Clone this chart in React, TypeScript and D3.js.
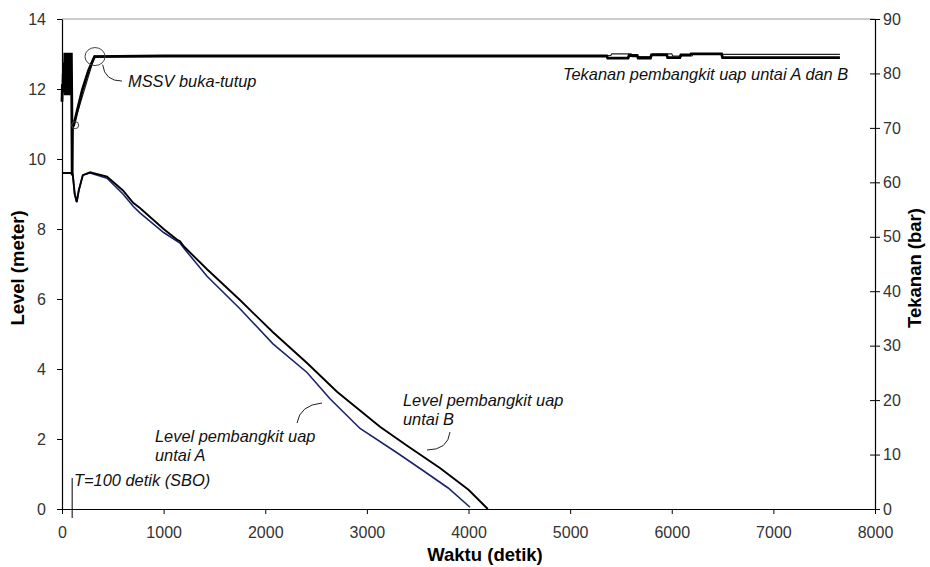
import * as d3 from "d3";
import { useRef, useEffect } from "react";

// waktu (detik) dan level (meter) untai A / B
const levelTimeA = [0, 100, 108, 125, 145, 165, 205, 276, 443, 600, 700, 767, 1000, 1161, 1200, 1427, 1751, 2076, 2411, 2637, 2933, 3300, 3552, 3800, 4015];
const levelA = [9.6, 9.6, 9.5, 9.0, 8.77, 9.1, 9.54, 9.6, 9.45, 9.0, 8.65, 8.46, 7.9, 7.6, 7.45, 6.65, 5.72, 4.72, 3.9, 3.15, 2.3, 1.6, 1.1, 0.6, 0.05];

const levelTimeB = [0, 100, 108, 125, 145, 165, 205, 276, 443, 600, 700, 767, 1000, 1130, 1161, 1200, 1427, 1751, 2076, 2411, 2706, 3129, 3400, 3719, 4000, 4190];
const levelB = [9.6, 9.6, 9.5, 9.0, 8.77, 9.1, 9.54, 9.62, 9.5, 9.1, 8.75, 8.6, 8.0, 7.7, 7.65, 7.5, 6.85, 5.97, 5.05, 4.17, 3.35, 2.35, 1.8, 1.17, 0.55, 0.0];

// tekanan (bar)
const pressTimeB = [0, 4, 8, 12, 16, 20, 24, 28, 32, 36, 40, 44, 48, 52, 56, 60, 64, 68, 72, 76, 80, 84, 88, 92, 96, 100, 103, 108, 115, 125, 150, 200, 260, 320, 1000, 2000, 3000, 4000, 5000, 5360, 5370, 5570, 5580, 5660, 5670, 5790, 5800, 5950, 5960, 6080, 6090, 6180, 6190, 6490, 6500, 7655];
const pressB = [74.8, 78, 76.5, 80, 77.5, 82, 78, 83.8, 76, 83.8, 76.5, 83.8, 76, 83.8, 76.5, 83.8, 76, 83.8, 76.5, 83.8, 76, 83.8, 76.5, 83.8, 75.5, 61.3, 70, 70.3, 70.5, 71.2, 73.2, 77, 80.5, 83.1, 83.2, 83.2, 83.2, 83.2, 83.2, 83.2, 82.8, 82.8, 83.3, 83.3, 82.8, 82.8, 83.4, 83.4, 82.9, 82.9, 83.4, 83.4, 83.6, 83.6, 82.9, 82.9];

const pressTimeA = [0, 30, 100, 103, 120, 320, 5000, 5400, 5410, 5600, 5610, 5800, 5810, 6000, 6010, 6200, 6210, 6480, 6490, 7655];
const pressA = [75.5, 82.5, 76, 70.5, 70.8, 83.2, 83.3, 83.3, 83.6, 83.6, 83.1, 83.1, 83.6, 83.6, 83.2, 83.2, 83.6, 83.6, 83.5, 83.5];

const xTicks = [0, 1000, 2000, 3000, 4000, 5000, 6000, 7000, 8000];
const levelTicks = [0, 2, 4, 6, 8, 10, 12, 14];
const pressTicks = [0, 10, 20, 30, 40, 50, 60, 70, 80, 90];

const width = 930;
const height = 567;
const left = 62;
const right = 875;
const top = 19;
const bottom = 509;
const font = "'Liberation Sans', Arial, sans-serif";

export default function App() {
  const gx = useRef<SVGGElement>(null);
  const gyL = useRef<SVGGElement>(null);
  const gyR = useRef<SVGGElement>(null);

  const x = d3.scaleLinear().domain([0, 8000]).range([left, right]);
  const yL = d3.scaleLinear().domain([0, 14]).range([bottom, top]);
  const yR = d3.scaleLinear().domain([0, 90]).range([bottom, top]);

  const lineL = d3.line<[number, number]>().x(d => x(d[0])).y(d => yL(d[1]));
  const lineR = d3.line<[number, number]>().x(d => x(d[0])).y(d => yR(d[1]));

  const pts = (t: number[], v: number[]) => t.map((d, i) => [d, v[i]] as [number, number]);

  useEffect(() => {
    const style = (g: d3.Selection<SVGGElement, unknown, null, undefined>) => {
      g.select(".domain").attr("stroke", "#000").attr("stroke-width", 1.2);
      g.selectAll(".tick line").attr("stroke", "#000");
      g.selectAll(".tick text")
        .attr("font-family", font)
        .attr("font-size", 16)
        .attr("fill", "#333");
    };
    const sx = d3.select(gx.current!);
    sx.call(d3.axisBottom(x).tickValues(xTicks).tickSize(5).tickSizeOuter(0).tickFormat(d3.format("d")));
    style(sx);
    sx.selectAll(".tick text").attr("y", 29).attr("dy", 0);

    const sl = d3.select(gyL.current!);
    sl.call(d3.axisLeft(yL).tickValues(levelTicks).tickSize(5).tickSizeOuter(0));
    style(sl);
    sl.selectAll(".tick text").attr("x", -16);

    const sr = d3.select(gyR.current!);
    sr.call(d3.axisRight(yR).tickValues(pressTicks).tickSize(5).tickSizeOuter(0));
    style(sr);
    sr.selectAll(".tick line").attr("x1", -5).attr("x2", 5);
    sr.selectAll(".tick text").attr("x", 8);
  }, []);

  const ann = { fontFamily: font, fontSize: 16.4, fontStyle: "italic" as const, fill: "#111" };

  return (
    <svg width={width} height={height} style={{ position: "absolute", left: 0, top: 0, background: "#fff" }}>
      <line x1={left} x2={right} y1={top} y2={top} stroke="#999" strokeWidth={1} />

      <path d={lineL(pts(levelTimeA, levelA))!} fill="none" stroke="#1c2270" strokeWidth={1.6} />
      <path d={lineL(pts(levelTimeB, levelB))!} fill="none" stroke="#000" strokeWidth={1.9} />
      <path d={lineR(pts(pressTimeA, pressA))!} fill="none" stroke="#222" strokeWidth={1.2} />
      <path d={lineR(pts(pressTimeB, pressB))!} fill="none" stroke="#000" strokeWidth={2.8} />

      <g ref={gx} transform={`translate(0,${bottom})`} />
      <g ref={gyL} transform={`translate(${left},0)`} />
      <g ref={gyR} transform={`translate(${right},0)`} />

      {/* anotasi */}
      <ellipse cx={x(325)} cy={yR(83.1)} rx={10} ry={9} fill="none" stroke="#444" strokeWidth={1} />
      <circle cx={x(130)} cy={yR(70.5)} r={3.5} fill="none" stroke="#444" strokeWidth={1} />
      <path d={`M${x(400)},${yR(81.6)} Q${x(420)},${yR(78.6)} ${x(590)},${yR(78.6)}`} fill="none" stroke="#222" strokeWidth={1} />
      <text x={128} y={87} {...ann}>MSSV buka-tutup</text>

      <text x={563} y={80} {...ann}>Tekanan pembangkit uap untai A dan B</text>

      <text x={403} y={406} {...ann}>Level pembangkit uap</text>
      <text x={403} y={424.5} {...ann}>untai B</text>
      <path d="M450,432 Q448,450 427,450" fill="none" stroke="#222" strokeWidth={1} />

      <text x={155} y={442} {...ann}>Level pembangkit uap</text>
      <text x={155} y={460.5} {...ann}>untai A</text>
      <path d="M297,423 Q300,405 322,403" fill="none" stroke="#222" strokeWidth={1} />

      <line x1={x(100)} x2={x(100)} y1={478} y2={518} stroke="#000" strokeWidth={1} />
      <text x={74} y={486} {...ann}>T=100 detik (SBO)</text>

      {/* judul sumbu */}
      <text x={485} y={561} textAnchor="middle" fontFamily={font} fontSize={18.5} fontWeight="bold">Waktu (detik)</text>
      <text transform="translate(24,268) rotate(-90)" textAnchor="middle" fontFamily={font} fontSize={18.5} fontWeight="bold">Level (meter)</text>
      <text transform="translate(921,268) rotate(-90)" textAnchor="middle" fontFamily={font} fontSize={18.5} fontWeight="bold">Tekanan (bar)</text>
    </svg>
  );
}
